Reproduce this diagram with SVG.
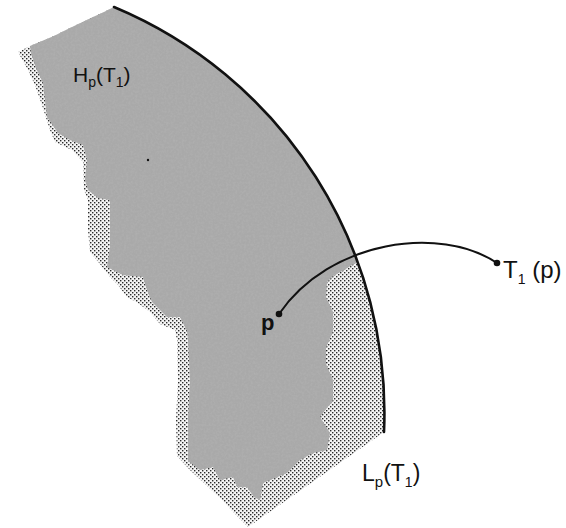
<svg xmlns="http://www.w3.org/2000/svg" width="566" height="528" viewBox="0 0 566 528">
<style>
.lbl{font-family:"Liberation Sans","DejaVu Sans",sans-serif;fill:#111}
.edge{fill:none;stroke:#111;stroke-linecap:round}
.dot{fill:#111}
</style>
<defs>
<pattern id="stip" width="4" height="4" patternUnits="userSpaceOnUse">
<rect width="4" height="4" fill="#f4f4f4"/>
<rect x="0" y="0" width="1.4" height="1.4" fill="#2a2a2a"/>
<rect x="2" y="2" width="1.4" height="1.4" fill="#2a2a2a"/>
</pattern>
<filter id="grain" x="0" y="0" width="100%" height="100%">
<feTurbulence type="fractalNoise" baseFrequency="0.45" numOctaves="2" seed="4" result="n"/>
<feColorMatrix in="n" type="matrix" values="0 0 0 0 0.45 0 0 0 0 0.45 0 0 0 0 0.45 0 0 0 1.1 -0.35" result="g"/>
<feComposite in="g" in2="SourceGraphic" operator="in" result="gi"/>
<feMerge><feMergeNode in="SourceGraphic"/><feMergeNode in="gi"/></feMerge>
</filter>
</defs>
<g id="region-L">
<path fill="url(#stip)" d="M18,52 L30,46 L54,36 L70,28 L91,18 L104,12 L114,7 A440,440 0 0 1 384,432 L248,527 L236,515 L222,500 L205,484 L190,470 L177,456 L176,420 L178,380 L177,340 L175,330 L160,324 L150,312 L138,303 L127,297 L118,285 L110,277 L100,264 L90,252 L88,230 L88,200 L84,190 L83,162 L72,150 L55,142 L50,130 L42,105 L35,85 L27,68 Z"/>
</g>
<g id="region-H">
<path fill="#a9a9a9" filter="url(#grain)" d="M30,46 L54,36 L70,28 L91,18 L104,12 L114,7 A440,440 0 0 1 357,262 L344,270 L333,276 L327,282 L326,297 L333,312 L333,331 L326,348 L326,364 L333,380 L333,400 L320,417 L330,433 L327,450 L313,453 L300,460 L287,473 L263,483 L260,500 L254,497 L247,487 L237,487 L233,477 L220,480 L213,467 L200,470 L188,461 L188,420 L190,380 L188,340 L187,331 L180,317 L167,317 L160,310 L152,302 L147,290 L143,277 L123,275 L107,267 L110,247 L110,200 L98,198 L88,190 L85,180 L87,160 L83,145 L70,140 L58,133 L47,117 L45,100 L43,83 L36,68 L31,53 Z"/>
<circle cx="148" cy="160" r="1.2" class="dot"/>
</g>
<g id="arc">
<path class="edge" stroke-width="2.6" d="M114,7 A440,440 0 0 1 384,432"/>
</g>
<g id="connectors">
<path class="edge" stroke-width="2" d="M279,314 C330,240 440,225 497,263"/>
</g>
<g id="node-p">
<circle cx="279" cy="314" r="3.3" class="dot"/>
<text class="lbl" x="261" y="330" font-size="22" font-weight="bold">p</text>
</g>
<g id="node-T1p">
<circle cx="497" cy="263" r="3.3" class="dot"/>
<text class="lbl" x="503" y="278" font-size="24">T<tspan font-size="14" dy="6">1</tspan><tspan dy="-6"> (p)</tspan></text>
</g>
<g id="label-H">
<text class="lbl" x="73" y="82" font-size="21">H<tspan font-size="14" dy="5">p</tspan><tspan dy="-5">(T</tspan><tspan font-size="14" dy="5">1</tspan><tspan dy="-5">)</tspan></text>
</g>
<g id="label-L">
<text class="lbl" x="362" y="481" font-size="23">L<tspan font-size="15" dy="6">p</tspan><tspan dy="-6">(T</tspan><tspan font-size="14" dy="6">1</tspan><tspan dy="-6">)</tspan></text>
</g>
</svg>
